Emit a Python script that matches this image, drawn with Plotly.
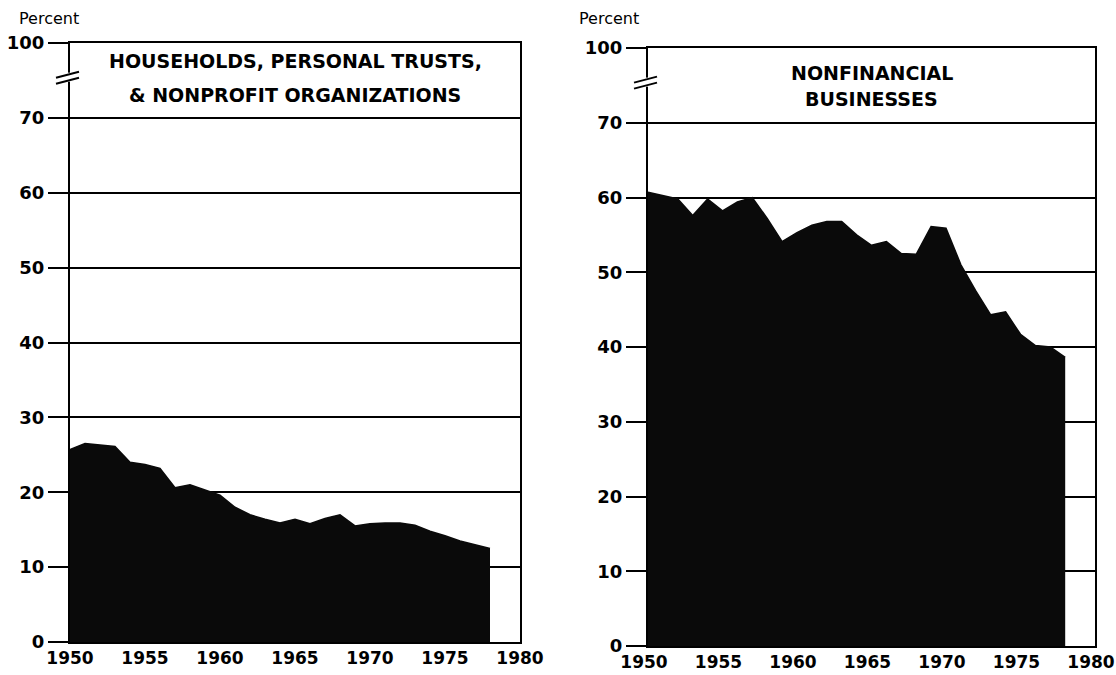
import plotly.graph_objects as go

years = list(range(1950, 1979))
households = [25.7, 26.5, 26.3, 26.1, 24.0, 23.7, 23.2, 20.6, 21.0, 20.3,
              19.6, 18.0, 17.0, 16.4, 15.9, 16.4, 15.8, 16.5, 17.0, 15.5,
              15.8, 15.9, 15.9, 15.6, 14.8, 14.2, 13.5, 13.0, 12.5]
nonfinancial = [60.7, 60.3, 59.8, 57.6, 59.8, 58.2, 59.4, 60.0, 57.2, 54.1,
                55.3, 56.3, 56.8, 56.8, 55.0, 53.6, 54.1, 52.5, 52.4, 56.1,
                55.9, 51.0, 47.5, 44.3, 44.7, 41.7, 40.2, 40.0, 38.6]

ytick_vals = [0, 10, 20, 30, 40, 50, 60, 70, 80]
ytick_text = ["0", "10", "20", "30", "40", "50", "60", "70", "100"]
xtick_vals = [1950, 1955, 1960, 1965, 1970, 1975, 1980]
titles = [["HOUSEHOLDS, PERSONAL TRUSTS,", "& NONPROFIT ORGANIZATIONS"],
          ["NONFINANCIAL", "BUSINESSES"]]

W, H = 1116, 675
BOLD = "DejaVu Sans"

fig = go.Figure()
fig.add_trace(go.Scatter(x=years, y=households, fill="tozeroy", mode="lines",
                         line=dict(color="#0a0a0a", width=1.5), fillcolor="#0a0a0a",
                         xaxis="x", yaxis="y", showlegend=False, hoverinfo="skip"))
fig.add_trace(go.Scatter(x=years, y=nonfinancial, fill="tozeroy", mode="lines",
                         line=dict(color="#0a0a0a", width=1.5), fillcolor="#0a0a0a",
                         xaxis="x2", yaxis="y2", showlegend=False, hoverinfo="skip"))

def xax(domain, anchor, shift):
    return dict(domain=domain, anchor=anchor, range=[1950, 1980], tickvals=xtick_vals,
                ticks="", showgrid=False, zeroline=False, showline=True, mirror=True,
                linecolor="black", linewidth=2, automargin=False,
                ticklabeloverflow="allow", ticklabelshift=shift,
                tickfont=dict(family=BOLD, size=17, color="black", weight="bold"))

def yax(domain, anchor):
    return dict(domain=domain, anchor=anchor, range=[0, 80], tickvals=ytick_vals,
                ticktext=ytick_text, ticks="outside", ticklen=20, tickwidth=2,
                tickcolor="black", showgrid=True, gridcolor="black", gridwidth=2,
                zeroline=False, showline=True, mirror=True, linecolor="black",
                linewidth=2, automargin=False, ticklabeloverflow="allow",
                tickfont=dict(family=BOLD, size=18, color="black", weight="bold"))

# panel pixel boxes (left, right, top, bottom)
panels = [(70, 520, 43, 642), (648, 1095, 48, 646)]

annotations = []
shapes = []
axes = {}
for i, (l, r, t, b) in enumerate(panels):
    sfx = "" if i == 0 else "2"
    axes["xaxis" + sfx] = xax([l / W, r / W], "y" + sfx, 0 if i == 0 else -4)
    axes["yaxis" + sfx] = yax([1 - b / H, 1 - t / H], "x" + sfx)
    ys = (77.6, 73.1) if i == 0 else (76.65, 73.2)
    for line, yv in zip(titles[i], ys):
        annotations.append(dict(text=line, xref="x" + sfx + " domain", x=0.5,
                                yref="y" + sfx, y=yv, showarrow=False,
                                xanchor="center", yanchor="middle",
                                font=dict(family=BOLD, size=19, color="black", weight="bold")))
    # axis break marks
    per = (b - t) / 80.0
    by = t + 4.5 * per
    ya = 1 - by / H
    xa = l / W
    shapes.append(dict(type="rect", xref="paper", yref="paper", xsizemode="pixel",
                       ysizemode="pixel", xanchor=xa, yanchor=ya, x0=-3, x1=3, y0=-5, y1=4,
                       fillcolor="white", line=dict(width=0), layer="above"))
    for off in (0, -6):
        shapes.append(dict(type="line", xref="paper", yref="paper", xsizemode="pixel",
                           ysizemode="pixel", xanchor=xa, yanchor=ya, x0=-14, x1=9,
                           y0=-1 + off, y1=5 + off,
                           line=dict(color="black", width=2), layer="above"))

for px in (17, 577):
    annotations.append(dict(text="Percent", xref="paper", yref="paper", x=px / W, y=1 - 19 / H,
                            xanchor="left", yanchor="middle", showarrow=False,
                            font=dict(family="DejaVu Sans", size=16, color="black")))

fig.update_layout(
    width=W, height=H, margin=dict(l=0, r=0, t=0, b=0),
    paper_bgcolor="white", plot_bgcolor="white",
    annotations=annotations, shapes=shapes, **axes,
)

fig.write_html("out.html", config={"displayModeBar": False},
               post_script="document.body.style.margin='0';document.body.style.overflow='hidden';")
